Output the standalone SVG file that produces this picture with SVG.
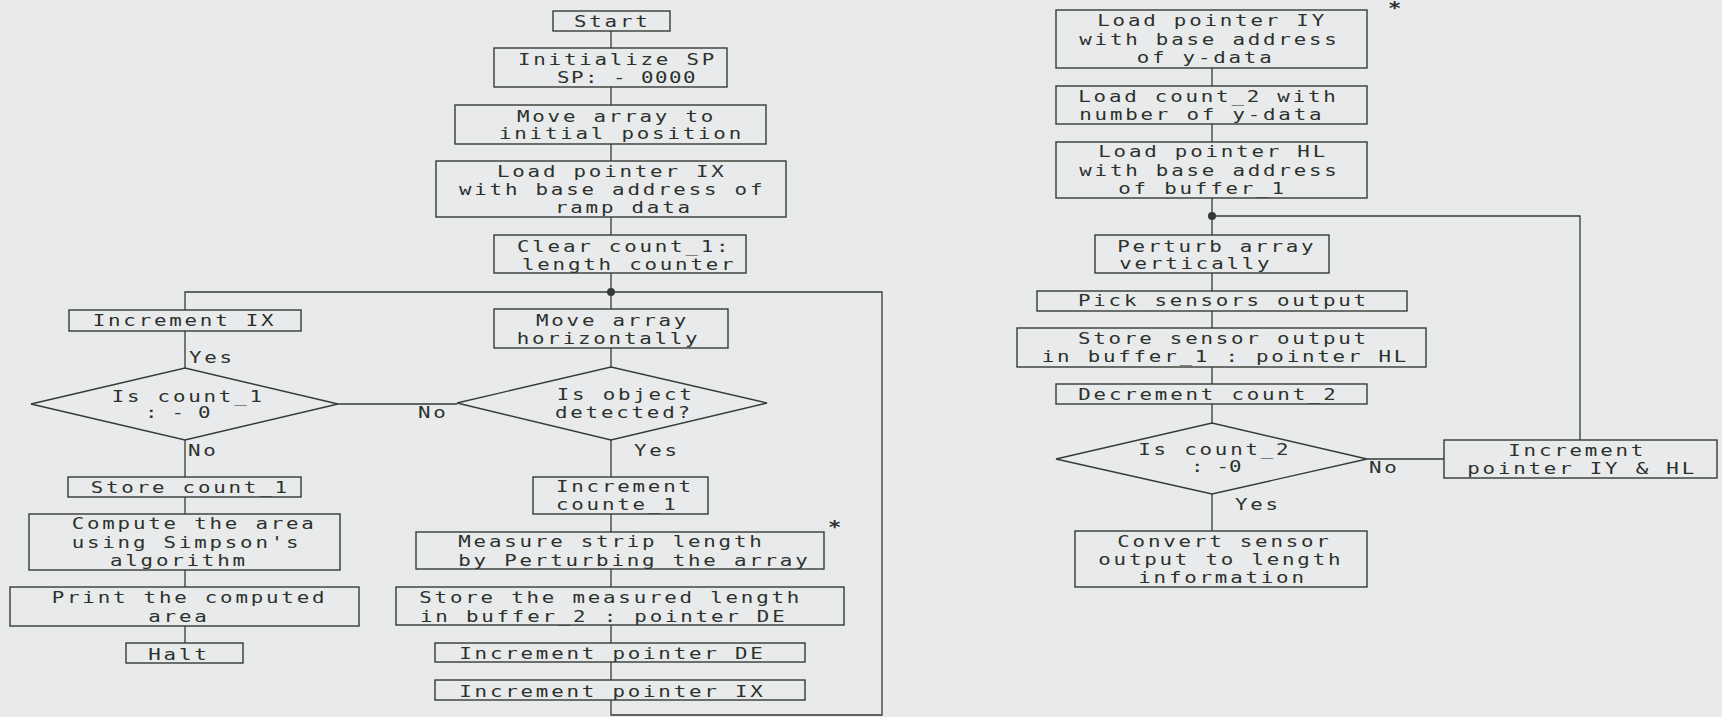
<svg xmlns="http://www.w3.org/2000/svg" width="1722" height="717" viewBox="0 0 1722 717">
<style>
.n rect,.n polygon{fill:none;stroke:#363b35;stroke-width:1.4}
.c path{fill:none;stroke:#363b35;stroke-width:1.3}
.c circle{fill:#363b35}
text{font-family:"DejaVu Sans Mono","Liberation Mono",monospace;font-size:16px;letter-spacing:2.15px;fill:#2c312c;transform:scaleX(1.3);transform-box:fill-box;transform-origin:left center}
.s{font-size:17px;font-weight:bold;letter-spacing:0}
</style>
<rect x="0" y="0" width="1722" height="717" fill="#e9eaec"/>
<g class="c" id="connectors">
<path d="M611 31V48M611 87V105M611 144V161M611 217V235M611 273V309M611 348V367M611 440V477M611 514V532M611 569V587M611 625V643M611 662V680M611 700V715H882V292H185V310"/>
<path d="M185 331V368M338 404H457M185 440V477M185 497V514M185 570V587M185 626V643"/>
<path d="M1212 68V86M1212 124V142M1212 198V235M1212 273V291M1212 311V328M1212 367V384M1212 404V423M1212 494V531M1367 459H1444M1212 216H1580V440"/>
<circle cx="611" cy="292" r="4"/>
<circle cx="1212" cy="216" r="4"/>
<text x="189" y="363">Yes</text>
<text x="418" y="418">No</text>
<text x="188" y="456">No</text>
<text x="634" y="456">Yes</text>
<text x="1369" y="473">No</text>
<text x="1235" y="510">Yes</text>
</g>
<g class="n" id="start"><rect x="553" y="11" width="117" height="20"/><text x="574" y="26.7">Start</text></g>
<g class="n" id="init-sp"><rect x="494" y="48" width="233" height="39"/><text x="518" y="65">Initialize SP</text><text x="557" y="83.3" style="letter-spacing:1.14px">SP: - 0000</text></g>
<g class="n" id="move-init"><rect x="455" y="105" width="311" height="39"/><text x="517" y="121.7">Move array to</text><text x="499" y="139.5">initial position</text></g>
<g class="n" id="load-ix"><rect x="436" y="161" width="350" height="56"/><text x="497" y="176.7">Load pointer IX</text><text x="459" y="195">with base address of</text><text x="555" y="213">ramp data</text></g>
<g class="n" id="clear-count"><rect x="494" y="235" width="252" height="38"/><text x="517" y="251.7">Clear count_1:</text><text x="522" y="270">length counter</text></g>
<g class="n" id="inc-ix"><rect x="69" y="310" width="232" height="21"/><text x="92.7" y="326">Increment IX</text></g>
<g class="n" id="is-count1"><polygon points="31,404 185,368 338,404 185,440"/><text x="111.7" y="401.7">Is count_1</text><text x="145" y="418.3" style="letter-spacing:0.56px">: - 0</text></g>
<g class="n" id="store-count1"><rect x="68" y="477" width="233" height="20"/><text x="90.7" y="493.3">Store count_1</text></g>
<g class="n" id="compute"><rect x="29" y="514" width="311" height="56"/><text x="71.7" y="529.3">Compute the area</text><text x="71.7" y="547.7">using Simpson's</text><text x="110" y="566">algorithm</text></g>
<g class="n" id="print"><rect x="10" y="587" width="349" height="39"/><text x="51.7" y="603.3">Print the computed</text><text x="148.3" y="621.7">area</text></g>
<g class="n" id="halt"><rect x="126" y="643" width="117" height="20"/><text x="148.3" y="660">Halt</text></g>
<g class="n" id="move-h"><rect x="494" y="309" width="234" height="39"/><text x="536" y="326">Move array</text><text x="516.7" y="344">horizontally</text></g>
<g class="n" id="is-object"><polygon points="457,403 611,367 767,403 611,440"/><text x="556.7" y="400">Is object</text><text x="555" y="417.7">detected?</text></g>
<g class="n" id="inc-counte"><rect x="533" y="477" width="175" height="37"/><text x="556" y="492.3">Increment</text><text x="556" y="510">counte_1</text></g>
<g class="n" id="measure"><rect x="416" y="532" width="408" height="37"/><text x="458.3" y="547.3">Measure strip length</text><text x="458.3" y="566">by Perturbing the array</text><text class="s" x="828" y="533">*</text></g>
<g class="n" id="store-len"><rect x="396" y="587" width="448" height="38"/><text x="419.3" y="603.3">Store the measured length</text><text x="420" y="621.7">in buffer_2 : pointer DE</text></g>
<g class="n" id="inc-de"><rect x="435" y="643" width="370" height="19"/><text x="459.3" y="659.3">Increment pointer DE</text></g>
<g class="n" id="inc-ix2"><rect x="435" y="680" width="370" height="20"/><text x="459.3" y="696.7">Increment pointer IX</text></g>
<g class="n" id="load-iy"><rect x="1056" y="10" width="311" height="58"/><text x="1097.3" y="26">Load pointer IY</text><text x="1079.3" y="45">with base address</text><text x="1136.7" y="63.3">of y-data</text><text class="s" x="1388" y="14">*</text></g>
<g class="n" id="load-count2"><rect x="1056" y="86" width="311" height="38"/><text x="1078.3" y="101.7">Load count_2 with</text><text x="1079.3" y="120">number of y-data</text></g>
<g class="n" id="load-hl"><rect x="1056" y="142" width="311" height="56"/><text x="1098.3" y="157.3">Load pointer HL</text><text x="1079.3" y="176">with base address</text><text x="1118.3" y="194.3">of buffer_1</text></g>
<g class="n" id="perturb"><rect x="1095" y="235" width="234" height="38"/><text x="1117.3" y="251.7">Perturb array</text><text x="1119.3" y="269.3">vertically</text></g>
<g class="n" id="pick"><rect x="1037" y="291" width="370" height="20"/><text x="1078" y="306">Pick sensors output</text></g>
<g class="n" id="store-sensor"><rect x="1017" y="328" width="409" height="39"/><text x="1078" y="344">Store sensor output</text><text x="1041.7" y="362.3">in buffer_1 : pointer HL</text></g>
<g class="n" id="decrement"><rect x="1056" y="384" width="311" height="20"/><text x="1078.3" y="400">Decrement count_2</text></g>
<g class="n" id="is-count2"><polygon points="1056,459 1212,423 1367,459 1212,494"/><text x="1138.3" y="455">Is count_2</text><text x="1191" y="472.5" style="letter-spacing:0.14px">: -0</text></g>
<g class="n" id="convert"><rect x="1075" y="531" width="292" height="56"/><text x="1117.3" y="546.7">Convert sensor</text><text x="1098.3" y="565">output to length</text><text x="1138.3" y="582.7">information</text></g>
<g class="n" id="inc-iy-hl"><rect x="1444" y="440" width="273" height="38"/><text x="1508.3" y="456">Increment</text><text x="1467.3" y="474.3">pointer IY &amp; HL</text></g>
</svg>
